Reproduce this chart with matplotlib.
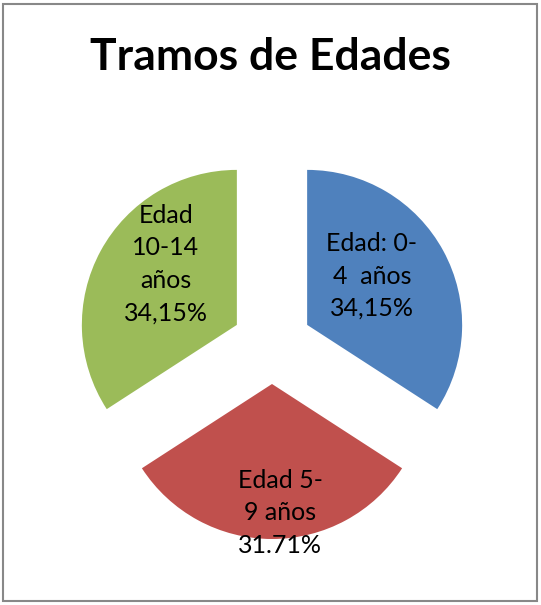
import matplotlib
matplotlib.use("Agg")
import matplotlib.pyplot as plt
from matplotlib.patches import Rectangle

title = "Tramos de Edades"
categories = ["Edad: 0-\n4  años", "Edad 5-\n9 años", "Edad\n10-14\naños"]
values = [34.15, 31.71, 34.15]
value_labels = ["34,15%", "31.71%", "34,15%"]
colors = ["#4F81BD", "#C0504D", "#9BBB59"]

W, H = 541, 605
fig = plt.figure(figsize=(W / 100, H / 100), dpi=100)
ax = fig.add_axes([0, 0, 1, 1])

cx, cy = 272, H - 344
radius = 155
wedges, _ = ax.pie(values, colors=colors, startangle=90, counterclock=False,
                   radius=radius, center=(cx, cy), explode=[40, 40, 40],
                   frame=True, wedgeprops=dict(linewidth=0))
ax.set_xlim(0, W)
ax.set_ylim(0, H)
ax.set_aspect("equal")
ax.axis("off")

label_pos = [(372, H - 276), (280, H - 513), (166, H - 264)]
font = ["Lato", "DejaVu Sans"]
for (x, y), cat, vl in zip(label_pos, categories, value_labels):
    ax.text(x, y, cat + "\n" + vl, ha="center", va="center", fontsize=18,
            family=font, color="black", linespacing=1.5)

fig.text(0.5, 1 - 57 / H, title, ha="center", va="center", fontsize=32,
         fontweight="bold", family=font)

fig.patches.append(Rectangle((3 / W, 4 / H), (537 - 3) / W, (601 - 4) / H,
                             transform=fig.transFigure, fill=False,
                             edgecolor="#888888", linewidth=1.5))

fig.savefig("out.png", dpi=100)
